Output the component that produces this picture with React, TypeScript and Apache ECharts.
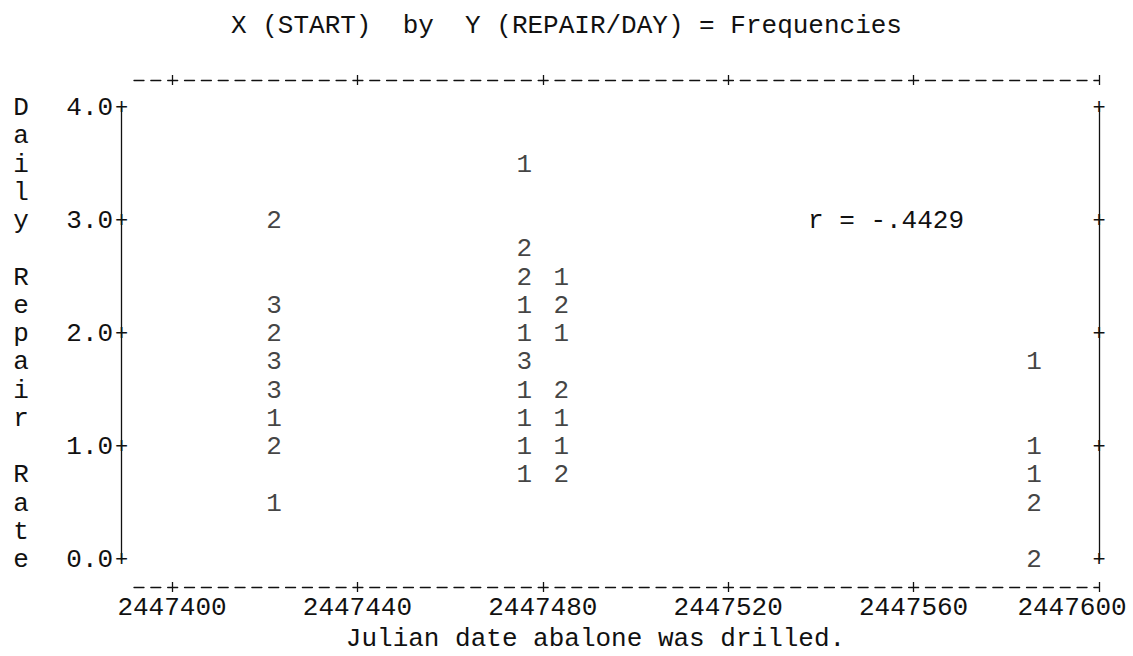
import React, { useEffect, useRef } from "react";
import * as echarts from "echarts";

// Line-printer style frequency scatter: each cell shows how many abalone fall in it.
const startDates = [
  2447422, 2447422, 2447422, 2447422, 2447422, 2447422, 2447422, 2447422,
  2447476, 2447476, 2447476, 2447476, 2447476, 2447476, 2447476, 2447476, 2447476, 2447476,
  2447484, 2447484, 2447484, 2447484, 2447484, 2447484, 2447484,
  2447586, 2447586, 2447586, 2447586, 2447586,
];
const repairRates = [
  3.0, 2.25, 2.0, 1.75, 1.5, 1.25, 1.0, 0.5,
  3.5, 2.75, 2.5, 2.25, 2.0, 1.75, 1.5, 1.25, 1.0, 0.75,
  2.5, 2.25, 2.0, 1.5, 1.25, 1.0, 0.75,
  1.75, 1.0, 0.75, 0.5, 0.0,
];
const frequencies = [
  2, 3, 2, 3, 3, 1, 2, 1,
  1, 2, 2, 1, 1, 3, 1, 1, 1, 1,
  1, 2, 1, 2, 1, 1, 2,
  1, 1, 1, 2, 2,
];

const dateTicks = [2447400, 2447440, 2447480, 2447520, 2447560, 2447600];
const rateTicks = [0, 1, 2, 3, 4];

const titleText = "X (START)  by  Y (REPAIR/DAY) = Frequencies";
const xTitle = "Julian date abalone was drilled.";
const yTitle = "Daily Repair Rate";
const correlationText = "r = -.4429";

// Printer grid geometry (pixels)
const PITCH = 16.84;
const ROW = 28.25;
const GRID_LEFT = 134;
const FRAME_RIGHT = 1099;
const FIRST_TICK_X = 172;
const Y_AXIS_X = 121.5;
const GRID_TOP = 108;
const GRID_BOTTOM_Y = 560;
const FRAME_GAP_TOP = 28;
const FRAME_GAP_BOTTOM = 27;

const X_MAX = 2447600;
const X_MIN =
  2447400 - ((FIRST_TICK_X - GRID_LEFT) * (X_MAX - 2447400)) / (FRAME_RIGHT - FIRST_TICK_X);

const INK = "#111111";
const MONO = "'Liberation Mono', 'Courier New', 'DejaVu Sans Mono', monospace";
const TEXT_SIZE = 26;

const plusToken = {
  fontFamily: MONO,
  fontSize: 22,
  lineHeight: 14,
  width: PITCH,
  align: "center" as const,
  color: INK,
};

const frameLine = { color: INK, width: 1.3 };

// Half of a "+" mark on a dashed frame: a short tick on one side of the line.
const crossTick = (inside: boolean) => ({
  show: true,
  customValues: dateTicks,
  inside,
  length: 5,
  lineStyle: frameLine,
});

export default function App() {
  const ref = useRef<HTMLDivElement>(null);

  useEffect(() => {
    if (!ref.current) return;
    const chart = echarts.init(ref.current, null, { renderer: "svg" });

    const points = startDates.map((d, i) => [d, repairRates[i], frequencies[i]]);

    const frameAxis = (
      position: "top" | "bottom",
      offset: number,
      withLine: boolean,
      inside: boolean
    ) => ({
      type: "value" as const,
      min: X_MIN,
      max: X_MAX,
      position,
      offset,
      axisLine: {
        show: withLine,
        onZero: false,
        lineStyle: { ...frameLine, type: [10, PITCH - 10] as number[] },
      },
      axisTick: crossTick(inside),
      splitLine: { show: false },
      axisLabel: { show: false },
    });

    chart.setOption({
      animation: false,
      backgroundColor: "#ffffff",
      title: {
        text: titleText,
        left: "center",
        top: 8,
        textStyle: {
          fontFamily: MONO,
          fontSize: 26,
          fontWeight: "normal",
          color: INK,
        },
      },
      grid: {
        left: GRID_LEFT,
        right: 1133 - FRAME_RIGHT,
        top: GRID_TOP,
        bottom: 656 - GRID_BOTTOM_Y,
        containLabel: false,
        outerBoundsMode: "none",
      },
      xAxis: [
        // bottom dashed frame with the lower arm of each "+"
        frameAxis("bottom", FRAME_GAP_BOTTOM, true, false),
        // top dashed frame with the upper arm of each "+"
        frameAxis("top", FRAME_GAP_TOP, true, false),
        // inner arm of each "+" on the top frame
        frameAxis("top", FRAME_GAP_TOP, false, true),
        // date labels, axis title and inner arm of each "+" on the bottom frame
        {
          type: "value",
          min: X_MIN,
          max: X_MAX,
          position: "bottom",
          offset: FRAME_GAP_BOTTOM,
          axisLine: { show: false, onZero: false },
          axisTick: crossTick(true),
          splitLine: { show: false },
          axisLabel: {
            customValues: dateTicks,
            margin: 21,
            verticalAlign: "middle",
            formatter: (v: number) =>
              v === X_MAX ? `{last|${String(v)}}` : `{n|${String(v)}}`,
            rich: {
              n: { fontFamily: MONO, fontSize: TEXT_SIZE, lineHeight: 22, color: INK },
              last: {
                fontFamily: MONO,
                fontSize: TEXT_SIZE,
                lineHeight: 22,
                color: INK,
                padding: [0, 54, 0, 0],
              },
            },
          },
          name: xTitle,
          nameLocation: "middle",
          nameGap: 46,
          nameTextStyle: {
            fontFamily: MONO,
            fontSize: TEXT_SIZE,
            lineHeight: 22,
            color: INK,
            verticalAlign: "middle",
            padding: [0, 42, 0, 0],
          },
        },
      ],
      yAxis: [
        {
          type: "value",
          min: 0,
          max: 4,
          interval: 1,
          position: "left",
          offset: GRID_LEFT - Y_AXIS_X,
          axisLine: { show: true, onZero: false, lineStyle: frameLine },
          axisTick: { show: false },
          splitLine: { show: false },
          axisLabel: {
            customValues: rateTicks,
            margin: -PITCH / 2,
            formatter: (v: number) => `{v|${v.toFixed(1)}}{p|+}`,
            rich: {
              v: { fontFamily: MONO, fontSize: TEXT_SIZE, color: INK },
              p: plusToken,
            },
          },
          name: yTitle.split("").join("\n"),
          nameLocation: "middle",
          nameRotate: 0,
          nameGap: Y_AXIS_X - 21,
          nameTextStyle: {
            fontFamily: MONO,
            fontSize: TEXT_SIZE,
            lineHeight: ROW,
            color: INK,
            align: "center",
            verticalAlign: "middle",
          },
        },
        {
          type: "value",
          min: 0,
          max: 4,
          interval: 1,
          position: "right",
          offset: 0,
          axisLine: { show: true, onZero: false, lineStyle: frameLine },
          axisTick: { show: false },
          splitLine: { show: false },
          axisLabel: {
            customValues: rateTicks,
            margin: -PITCH / 2,
            formatter: () => "{p|+}",
            rich: { p: plusToken },
          },
        },
      ],
      graphic: [
        {
          type: "text",
          x: 808,
          y: 221,
          silent: true,
          style: {
            text: correlationText,
            fontFamily: MONO,
            fontSize: TEXT_SIZE,
            fill: INK,
            verticalAlign: "middle",
            textVerticalAlign: "middle",
          },
        },
      ],
      series: [
        {
          type: "scatter",
          xAxisIndex: 0,
          yAxisIndex: 0,
          data: points,
          symbol: "circle",
          symbolSize: 1,
          itemStyle: { color: "rgba(0,0,0,0)" },
          silent: true,
          label: {
            show: true,
            position: "inside",
            formatter: (p: any) => String(p.value[2]),
            fontFamily: MONO,
            fontSize: TEXT_SIZE,
            color: INK,
          },
        },
      ],
    });

    return () => chart.dispose();
  }, []);

  return (
    <div
      ref={ref}
      style={{
        position: "absolute",
        left: 0,
        top: 0,
        width: 1133,
        height: 656,
        background: "#ffffff",
      }}
    />
  );
}
